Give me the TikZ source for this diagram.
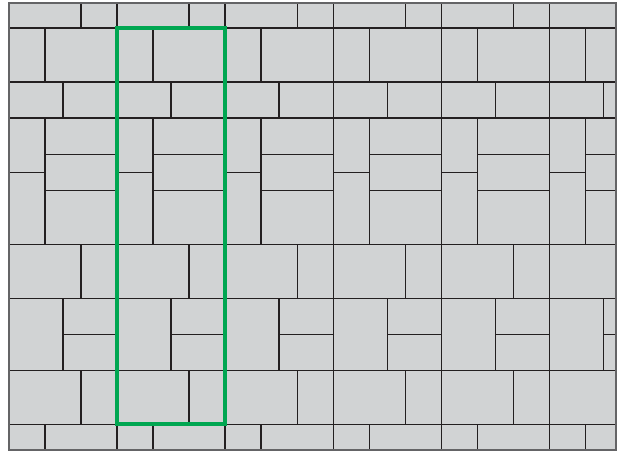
\documentclass[tikz,border=0pt]{standalone}
\usetikzlibrary{calc}
\definecolor{pavgris}{RGB}{209,211,212}
\definecolor{pavjoint}{RGB}{35,31,32}
\definecolor{pavvert}{RGB}{0,166,81}
\definecolor{pavbord}{RGB}{100,100,102}

\begin{document}
\begin{tikzpicture}[x=0.5cm, y=-0.5cm,
  joint/.style={pavjoint, line width=0.8pt},
  cadre/.style={draw=pavbord, line width=1.1pt},
  motif/.style={draw=pavvert, line width=3.5pt}
]
  \useasboundingbox (-0.5,-1.556) rectangle (33.833,23.5);

  % Paving surface
  \fill[pavgris] (0,-1.389) rectangle (33.72,23.44);
  \begin{scope}
    \clip (0,-1.389) rectangle (33.72,23.44);
    \foreach \i in {0,...,5}{
      \foreach \j in {-1,0,1}{
        \begin{scope}[shift={(6*\i,22*\j)}]
          % rows across the module
          \draw[joint] (0,0) -- (0,22);
          \foreach \r in {0,3,5,12,15,19}
            \draw[joint] (0,\r) -- (6,\r);
          % cross joints
          \draw[joint] (2,0) -- (2,3)  (3,3) -- (3,5)  (2,5) -- (2,12)
                       (4,12) -- (4,15) (3,15) -- (3,19) (4,19) -- (4,22);
          \draw[joint] (0,8) -- (2,8)  (2,7) -- (6,7)  (2,9) -- (6,9)
                       (3,17) -- (6,17);
        \end{scope}
      }
    }
  \end{scope}
  \draw[cadre] (0,-1.389) rectangle (33.72,23.44);

  % Repeating module
  \draw[motif] (6,0) rectangle (12,22);
\end{tikzpicture}
\end{document}
